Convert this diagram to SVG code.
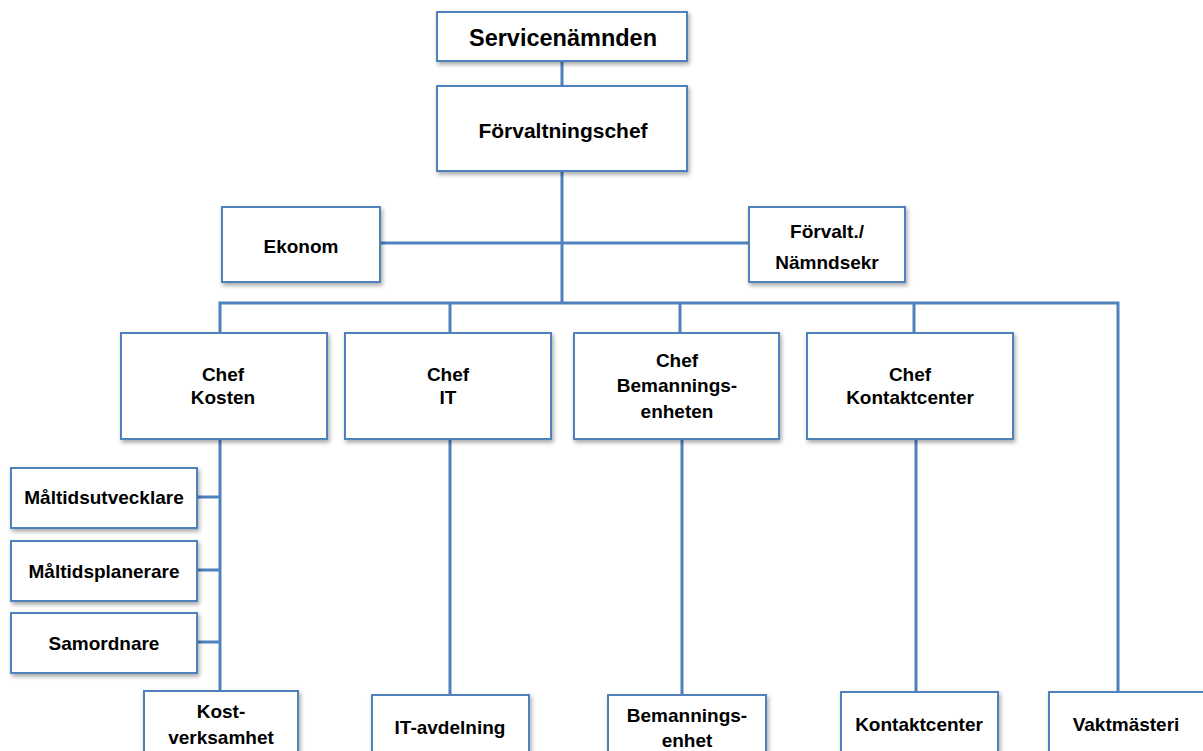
<svg xmlns="http://www.w3.org/2000/svg" width="1203" height="751" viewBox="0 0 1203 751">
<defs>
<filter id="sh" x="-10%" y="-10%" width="130%" height="140%">
<feDropShadow dx="1.5" dy="2.5" stdDeviation="2" flood-color="#000" flood-opacity="0.35"/>
</filter>
</defs>
<style>
.box{fill:#fff;stroke:#4F81BD;stroke-width:2;filter:url(#sh)}
.ln{stroke:#4F81BD;stroke-width:3;fill:none}
text{font-family:"Liberation Sans",Arial,sans-serif;font-weight:bold;fill:#000;text-anchor:middle;font-size:19px}
text.big{font-size:23.5px}
text.mid{font-size:21px}
</style>
<rect width="1203" height="751" fill="#fff"/>
<g id="connectors">
<line class="ln" x1="562" y1="61" x2="562" y2="86"/>
<line class="ln" x1="562" y1="171" x2="562" y2="304"/>
<line class="ln" x1="380" y1="243" x2="749" y2="243"/>
<polyline class="ln" points="220,333 220,303 1118,303 1118,692"/>
<line class="ln" x1="450" y1="303" x2="450" y2="333"/>
<line class="ln" x1="680" y1="303" x2="680" y2="333"/>
<line class="ln" x1="914" y1="303" x2="914" y2="333"/>
<line class="ln" x1="220" y1="439" x2="220" y2="691"/>
<line class="ln" x1="197" y1="497" x2="220" y2="497"/>
<line class="ln" x1="197" y1="570" x2="220" y2="570"/>
<line class="ln" x1="197" y1="642" x2="220" y2="642"/>
<line class="ln" x1="450" y1="439" x2="450" y2="695"/>
<line class="ln" x1="682" y1="439" x2="682" y2="695"/>
<line class="ln" x1="916" y1="439" x2="916" y2="692"/>
</g>
<g id="servicenamnden"><rect class="box" x="437" y="12" width="250" height="49"/><text class="big" x="563" y="46">Servicenämnden</text></g>
<g id="forvaltningschef"><rect class="box" x="437" y="86" width="250" height="85"/><text class="mid" x="563" y="138">Förvaltningschef</text></g>
<g id="ekonom"><rect class="box" x="222" y="207" width="158" height="75"/><text x="301" y="253">Ekonom</text></g>
<g id="namndsekr"><rect class="box" x="749" y="207" width="156" height="75"/><text x="827" y="238">Förvalt./</text><text x="827" y="269">Nämndsekr</text></g>
<g id="chef-kosten"><rect class="box" x="121" y="333" width="206" height="106"/><text x="223" y="381">Chef</text><text x="223" y="404">Kosten</text></g>
<g id="chef-it"><rect class="box" x="345" y="333" width="206" height="106"/><text x="448" y="381">Chef</text><text x="448" y="404">IT</text></g>
<g id="chef-bemanning"><rect class="box" x="574" y="333" width="205" height="106"/><text x="677" y="367">Chef</text><text x="677" y="392">Bemannings-</text><text x="677" y="418">enheten</text></g>
<g id="chef-kontaktcenter"><rect class="box" x="807" y="333" width="206" height="106"/><text x="910" y="381">Chef</text><text x="910" y="404">Kontaktcenter</text></g>
<g id="maltidsutvecklare"><rect class="box" x="11" y="468" width="186" height="60"/><text x="104" y="504">Måltidsutvecklare</text></g>
<g id="maltidsplanerare"><rect class="box" x="11" y="541" width="186" height="60"/><text x="104" y="578">Måltidsplanerare</text></g>
<g id="samordnare"><rect class="box" x="11" y="613" width="186" height="60"/><text x="104" y="650">Samordnare</text></g>
<g id="kostverksamhet"><rect class="box" x="144" y="691" width="154" height="70"/><text x="221" y="718">Kost-</text><text x="221" y="744">verksamhet</text></g>
<g id="it-avdelning"><rect class="box" x="372" y="695" width="157" height="66"/><text x="450" y="734">IT-avdelning</text></g>
<g id="bemanningsenhet"><rect class="box" x="608" y="695" width="158" height="66"/><text x="687" y="722">Bemannings-</text><text x="687" y="747">enhet</text></g>
<g id="kontaktcenter"><rect class="box" x="841" y="692" width="157" height="69"/><text x="919" y="731">Kontaktcenter</text></g>
<g id="vaktmasteri"><rect class="box" x="1049" y="692" width="160" height="69"/><text x="1126" y="731">Vaktmästeri</text></g>
</svg>
